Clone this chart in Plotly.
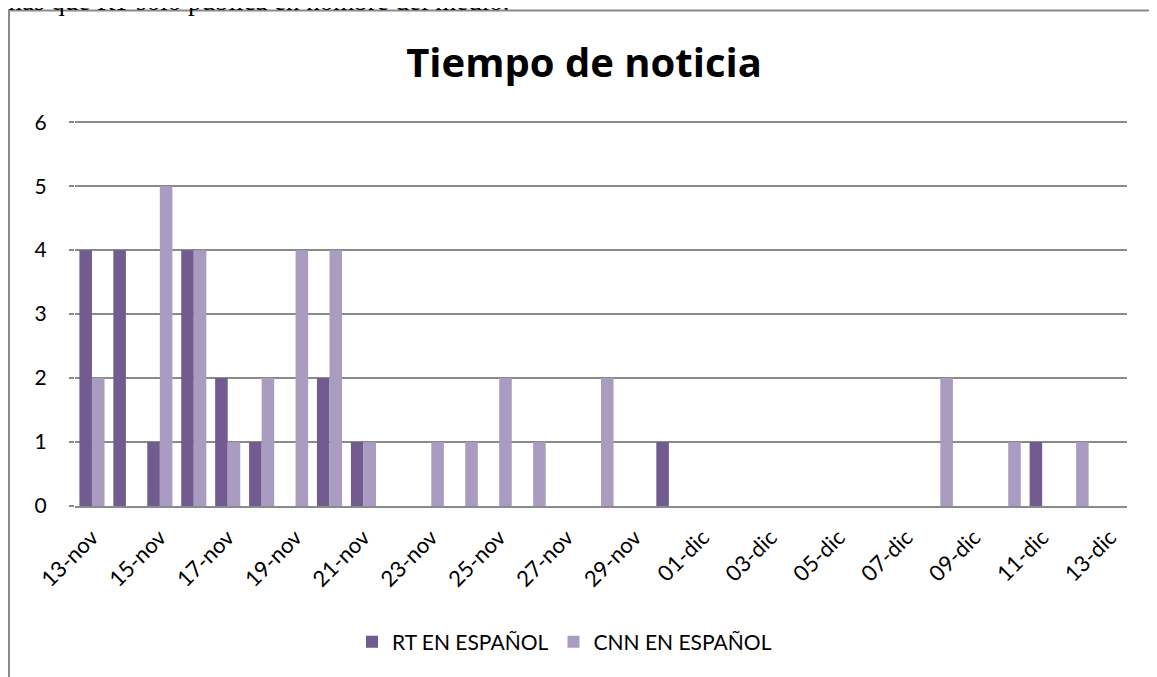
import plotly.graph_objects as go

dates = ["13-nov", "14-nov", "15-nov", "16-nov", "17-nov", "18-nov", "19-nov", "20-nov",
         "21-nov", "22-nov", "23-nov", "24-nov", "25-nov", "26-nov", "27-nov", "28-nov",
         "29-nov", "30-nov", "01-dic", "02-dic", "03-dic", "04-dic", "05-dic", "06-dic",
         "07-dic", "08-dic", "09-dic", "10-dic", "11-dic", "12-dic", "13-dic"]
rt_values = [4, 4, 1, 4, 2, 1, 0, 2, 1, 0, 0, 0, 0, 0, 0, 0,
             0, 1, 0, 0, 0, 0, 0, 0, 0, 0, 0, 0, 1, 0, 0]
cnn_values = [2, 0, 5, 4, 1, 2, 4, 4, 1, 0, 1, 1, 2, 1, 0, 2,
              0, 0, 0, 0, 0, 0, 0, 0, 0, 2, 0, 1, 0, 1, 0]
tick_labels = dates[::2]
y_ticks = [0, 1, 2, 3, 4, 5, 6]

RT_COLOR = "#725b8f"
CNN_COLOR = "#aa9bc0"
GRID = "#8a8a8a"
FONT = "Lato"

OFF = 8  # page body margin
Y_TOP = 6.05
W, H = 1157 - OFF, 677 - OFF
L = 75 - OFF
R = W - (1127 - OFF)
B = H - (506 - OFF)
unit = 64.0
T = H - B - int(round(unit * Y_TOP))
pw = W - L - R
ph = H - T - B

def px_x(x):  # x in page pixels
    return (x - OFF - L) / pw

def px_y(y):  # y in page pixels
    return (H - B - (y - OFF)) / ph

fig = go.Figure()
fig.add_trace(go.Bar(x=dates, y=rt_values, name="RT EN ESPAÑOL",
                     marker=dict(color=RT_COLOR, line=dict(width=0))))
fig.add_trace(go.Bar(x=dates, y=cnn_values, name="CNN EN ESPAÑOL",
                     marker=dict(color=CNN_COLOR, line=dict(width=0))))

fig.update_layout(
    width=W, height=H,
    margin=dict(l=L, r=R, t=T, b=B, autoexpand=False),
    paper_bgcolor="white", plot_bgcolor="white",
    barmode="group", bargap=0.26, bargroupgap=0,
    font=dict(family=FONT, size=21, color="black"),
    title=dict(text="<b>Tiempo de noticia</b>", x=(584 - OFF) / W, xanchor="center",
               y=1 - (63 - OFF) / H, yanchor="middle", yref="container",
               font=dict(family="Open Sans", size=40, color="black")),
    legend=dict(orientation="h", x=px_x(352), xanchor="left", y=px_y(642), yanchor="middle",
                font=dict(family=FONT, size=21), itemwidth=30, tracegroupgap=0,
                bgcolor="rgba(0,0,0,0)"),
    xaxis=dict(type="category", categoryorder="array", categoryarray=dates,
               tickmode="array", tickvals=tick_labels, ticktext=tick_labels,
               tickangle=-45, showgrid=False, showline=True, linecolor=GRID, linewidth=2,
               ticks="", ticklabelstandoff=8, tickfont=dict(family=FONT, size=22),
               range=[-0.5, len(dates) - 0.5]),
    yaxis=dict(range=[0, Y_TOP], tickmode="array", tickvals=y_ticks, showgrid=True,
               gridcolor=GRID, gridwidth=1.5, zeroline=False, showline=False,
               ticks="outside", ticklen=5, tickcolor=GRID, tickwidth=1.5,
               ticklabelstandoff=18, tickfont=dict(family=FONT, size=21)),
    shapes=[dict(type="rect", xref="paper", yref="paper",
                 x0=px_x(9), x1=px_x(1170), y0=px_y(700), y1=px_y(10.5),
                 line=dict(color=GRID, width=2), fillcolor="rgba(0,0,0,0)", layer="below")],
    annotations=[dict(text="mas que RT solo publica en nombre del medio.", xref="paper", yref="paper",
                      x=px_x(-1), xanchor="left", y=px_y(18), yanchor="bottom", showarrow=False,
                      font=dict(family="Liberation Serif", size=27, color="black"))],
)

fig.write_html("out.html")
